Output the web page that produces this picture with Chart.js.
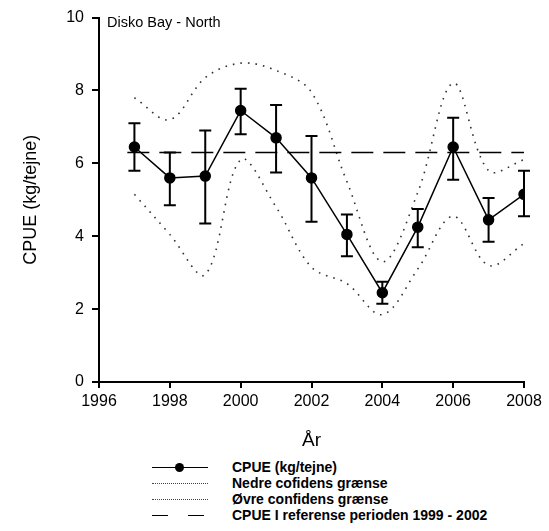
<!DOCTYPE html>
<html>
<head>
<meta charset="utf-8">
<script src="https://cdn.jsdelivr.net/npm/chart.js@4"></script>
<style>
  body { margin: 0; background: #fff; }
  #wrap { position: relative; width: 549px; height: 531px; }
  #chartBox { position: absolute; left: 0; top: 0; width: 549px; height: 452px; }
  #legend { position: absolute; left: 152px; top: 459px; font: bold 14px "Liberation Sans", Arial, sans-serif; color: #000; }
  .row { position: relative; height: 16px; line-height: 16px; }
  .sym { position: absolute; left: 0; top: 8px; width: 56px; }
  .txt { position: absolute; left: 80px; top: 0; white-space: nowrap; }
  .solid { border-top: 1.5px solid #000; }
  .dot { position: absolute; left: 23px; top: -5px; width: 9px; height: 9px; border-radius: 50%; background: #000; }
  .dotted { border-top: 1.5px dotted #444; }
</style>
</head>
<body>
<div id="wrap">
  <div id="chartBox"><canvas id="chart"></canvas></div>
  <div id="legend">
    <div class="row"><div class="sym solid"><div class="dot"></div></div><div class="txt">CPUE (kg/tejne)</div></div>
    <div class="row"><div class="sym dotted"></div><div class="txt">Nedre cofidens grænse</div></div>
    <div class="row"><div class="sym dotted"></div><div class="txt">Øvre confidens grænse</div></div>
    <div class="row"><div class="sym" style="border-top:1.5px solid #000;width:16px"></div><div class="sym" style="border-top:1.5px solid #000;width:16px;left:36px"></div><div class="txt">CPUE I referense perioden 1999 - 2002</div></div>
  </div>
</div>
<script>
const years = [1997, 1998, 1999, 2000, 2001, 2002, 2003, 2004, 2005, 2006, 2007, 2008];
const cpue = [6.45, 5.6, 5.65, 7.45, 6.7, 5.6, 4.05, 2.45, 4.25, 6.45, 4.45, 5.15];
const errLow = [5.8, 4.85, 4.35, 6.8, 5.75, 4.4, 3.45, 2.15, 3.7, 5.55, 3.85, 4.55];
const errHigh = [7.1, 6.3, 6.9, 8.05, 7.6, 6.75, 4.6, 2.75, 4.75, 7.25, 5.05, 5.8];
const lowerCI = [5.15, 4.05, 2.95, 6.1, 4.8, 3.15, 2.7, 1.85, 3.1, 4.55, 3.2, 3.8];
const upperCI = [7.8, 7.2, 8.35, 8.75, 8.55, 7.95, 5.5, 3.3, 5.2, 8.2, 5.8, 6.1];
const refYears = [1996.8, 2008.2];
const refValue = [6.3, 6.3];
const xTicks = [1996, 1998, 2000, 2002, 2004, 2006, 2008];
const yTicks = [0, 2, 4, 6, 8, 10];

Chart.defaults.font.family = "'Liberation Sans', Arial, sans-serif";
Chart.defaults.color = '#000';

const toXY = (xs, ys) => xs.map((x, i) => ({x: x, y: ys[i]}));

// error bars + panel label
const extras = {
    id: 'extras',
    afterDatasetsDraw(chart) {
        const {ctx, scales: {x, y}, chartArea} = chart;
        ctx.save();
        ctx.strokeStyle = '#000';
        ctx.lineWidth = 2;
        years.forEach((yr, i) => {
            const px = x.getPixelForValue(yr);
            const lo = y.getPixelForValue(errLow[i]);
            const hi = y.getPixelForValue(errHigh[i]);
            ctx.beginPath();
            ctx.moveTo(px, lo); ctx.lineTo(px, hi);
            ctx.moveTo(px - 6, lo); ctx.lineTo(px + 6, lo);
            ctx.moveTo(px - 6, hi); ctx.lineTo(px + 6, hi);
            ctx.stroke();
        });
        ctx.fillStyle = '#000';
        ctx.font = "14.5px 'Liberation Sans', Arial, sans-serif";
        ctx.textBaseline = 'top';
        ctx.fillText('Disko Bay - North', chartArea.left + 8, chartArea.top - 2);
        ctx.restore();
    }
};

new Chart(document.getElementById('chart'), {
    type: 'line',
    data: {
        datasets: [
            {
                label: 'CPUE (kg/tejne)',
                data: toXY(years, cpue),
                borderColor: '#000',
                backgroundColor: '#000',
                borderWidth: 1.5,
                pointRadius: 5,
                pointHoverRadius: 5,
                tension: 0,
                order: 0
            },
            {
                label: 'Nedre cofidens grænse',
                data: toXY(years, lowerCI),
                borderColor: '#333',
                borderWidth: 1.6,
                borderDash: [1.6, 6],
                pointRadius: 0,
                tension: 0.35,
                order: 2
            },
            {
                label: 'Øvre confidens grænse',
                data: toXY(years, upperCI),
                borderColor: '#333',
                borderWidth: 1.6,
                borderDash: [1.6, 6],
                pointRadius: 0,
                tension: 0.35,
                order: 2
            },
            {
                label: 'CPUE I referense perioden 1999 - 2002',
                data: toXY(refYears, refValue),
                borderColor: '#000',
                borderWidth: 1.5,
                borderDash: [22, 10],
                pointRadius: 0,
                order: 1
            }
        ]
    },
    options: {
        responsive: true,
        maintainAspectRatio: false,
        animation: false,
        layout: { padding: { top: 17, right: 25, left: 0, bottom: 0 } },
        plugins: { legend: { display: false }, tooltip: { enabled: false } },
        scales: {
            x: {
                type: 'linear',
                min: 1996,
                max: 2008,
                afterBuildTicks: (s) => { s.ticks = xTicks.map(v => ({value: v})); },
                afterFit: (s) => { s.height = 70; },
                grid: { display: true, drawOnChartArea: false, drawTicks: true, tickLength: 6, color: '#000', lineWidth: 2 },
                border: { display: true, color: '#000', width: 2 },
                ticks: { padding: 4, font: { size: 16 }, callback: (v) => String(v), maxRotation: 0 },
                title: { display: true, text: 'År', font: { size: 19 }, padding: { top: 0, bottom: 0 } }
            },
            y: {
                type: 'linear',
                min: 0,
                max: 10,
                afterBuildTicks: (s) => { s.ticks = yTicks.map(v => ({value: v})); },
                afterFit: (s) => { s.width = 99; },
                grid: { display: true, drawOnChartArea: false, drawTicks: true, tickLength: 7, color: '#000', lineWidth: 2 },
                border: { display: true, color: '#000', width: 2 },
                ticks: { padding: 8, font: { size: 16 } },
                title: { display: true, text: 'CPUE (kg/tejne)', font: { size: 18 }, padding: { top: 20, bottom: 0 } }
            }
        }
    },
    plugins: [extras]
});
</script>
</body>
</html>
